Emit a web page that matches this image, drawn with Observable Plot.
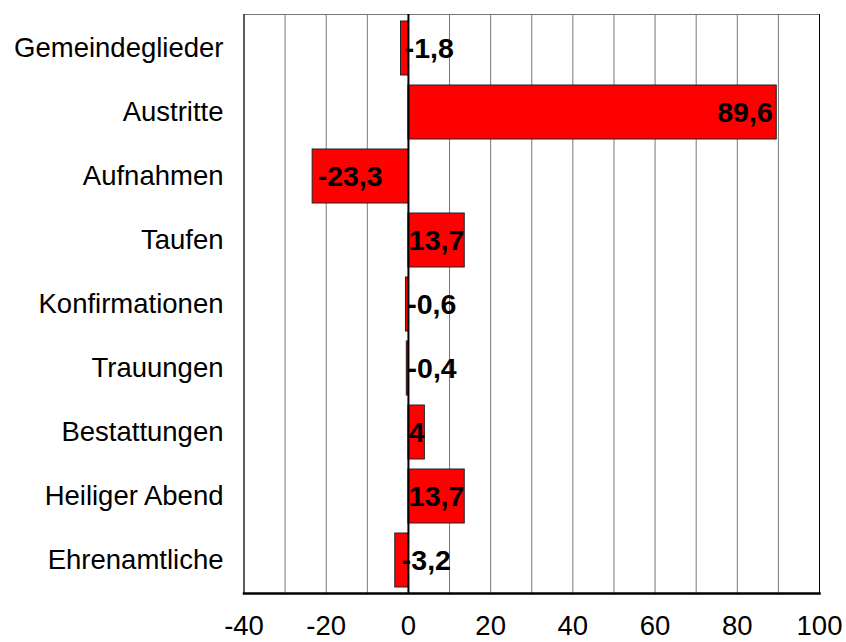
<!DOCTYPE html>
<html><head><meta charset="utf-8">
<script src="https://cdn.jsdelivr.net/npm/d3@7"></script>
<script src="https://cdn.jsdelivr.net/npm/@observablehq/plot@0.6"></script>
<style>body{margin:0;background:#fff}</style>
</head><body><div id="chart"></div>
<script>
const categories = ["Gemeindeglieder","Austritte","Aufnahmen","Taufen","Konfirmationen","Trauungen","Bestattungen","Heiliger Abend","Ehrenamtliche"];
const values = [-1.8, 89.6, -23.3, 13.7, -0.6, -0.4, 4, 13.7, -3.2];
const xTicks = [-40, -20, 0, 20, 40, 60, 80, 100];
const gridValues = [-30, -20, -10, 10, 20, 30, 40, 50, 60, 70, 80, 90];

const data = categories.map((c, i) => ({cat: c, v: values[i], label: String(values[i]).replace(".", ",")}));
const font = "Liberation Sans, Arial, sans-serif";
const labelStyle = {fontSize: 28.5, fontWeight: "bold", fill: "black", fontFamily: font};

const chart = Plot.plot({
  width: 846, height: 642,
  marginLeft: 243.5, marginRight: 27, marginTop: 14, marginBottom: 49,
  style: {fontFamily: font, fontSize: "27.5px", background: "white", color: "black"},
  x: {domain: [-40, 100], ticks: xTicks, tickFormat: d => String(d), tickSize: 0, tickPadding: 22, label: null},
  y: {domain: categories, paddingInner: 0.16, paddingOuter: 0.08, tickSize: 0, tickPadding: 20.5, label: null},
  marks: [
    Plot.ruleX(gridValues, {stroke: "#777", strokeWidth: 1}),
    Plot.frame({stroke: "#777"}),
    Plot.ruleX([-40, 100], {stroke: "black", strokeWidth: 1}),
    Plot.barX(data, {y: "cat", x: "v", fill: "#ff0000", stroke: "#222", strokeWidth: 1}),
    Plot.ruleX([0], {stroke: "black", strokeWidth: 2}),
    Plot.frame({anchor: "bottom", stroke: "black", strokeWidth: 2.5}),
    Plot.text(data.filter(d => d.v >= 20), {y: "cat", x: "v", text: "label", textAnchor: "end", dx: -4, ...labelStyle}),
    Plot.text(data.filter(d => d.v <= -20), {y: "cat", x: "v", text: "label", textAnchor: "start", dx: 5, ...labelStyle}),
    Plot.text(data.filter(d => d.v > 0 && d.v < 20), {y: "cat", x: d => d.v / 2, text: "label", textAnchor: "middle", ...labelStyle}),
    Plot.text(data.filter(d => d.v < 0 && d.v > -20), {y: "cat", x: d => d.v / 2, text: "label", textAnchor: "start", dx: 0, ...labelStyle})
  ]
});
document.getElementById("chart").appendChild(chart);
</script>
</body></html>
